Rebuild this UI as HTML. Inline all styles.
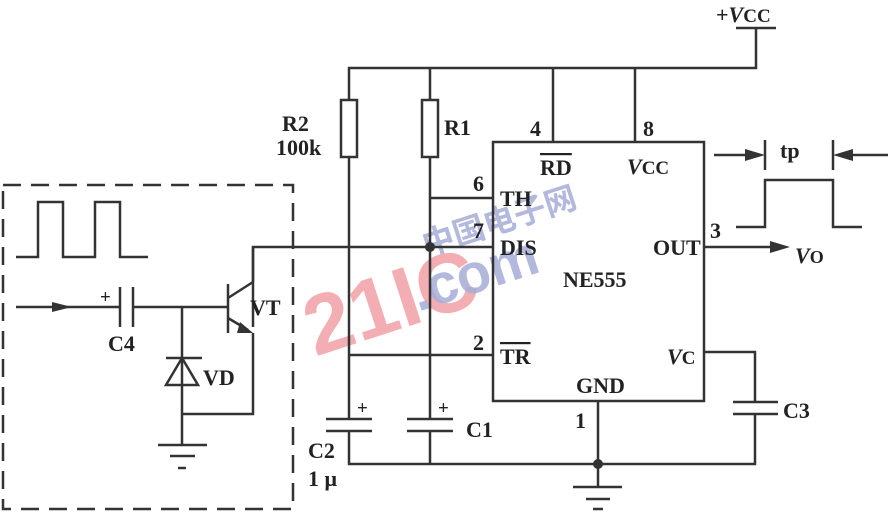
<!DOCTYPE html>
<html><head><style>html,body{margin:0;padding:0;background:#fff}svg{display:block}</style></head><body>
<svg width="892" height="514" viewBox="0 0 892 514" xmlns="http://www.w3.org/2000/svg" font-family="Liberation Serif, serif" font-weight="bold" fill="#222">
<!-- watermark -->
<text x="300" y="340" font-family="Liberation Sans, sans-serif" font-size="84" font-weight="bold" fill="#f2a0a8" transform="rotate(-18 360 300)" opacity="0.85">21IC</text>
<text x="405" y="290" font-family="Liberation Sans, sans-serif" font-size="56" font-weight="bold" fill="#a6acd8" transform="rotate(-18 480 260)" opacity="0.85">.com</text>
<text x="418" y="238" font-family="Noto Sans CJK SC, sans-serif" font-size="32" fill="#a6acd8" transform="rotate(-18 480 220)" opacity="0.85">中国电子网</text>
<g stroke="#333" stroke-width="2.5" fill="none">
<polyline points="349,100 349,68 756,68 756,28"/>
<line x1="736" y1="28" x2="776" y2="28"/>
<line x1="430" y1="68" x2="430" y2="100"/>
<line x1="553" y1="68" x2="553" y2="142"/>
<line x1="635" y1="68" x2="635" y2="142"/>
<rect x="341" y="100" width="16" height="57"/>
<rect x="422" y="100" width="16" height="57"/>
<line x1="349" y1="157" x2="349" y2="419"/>
<line x1="430" y1="157" x2="430" y2="419"/>
<rect x="493" y="142" width="211" height="259"/>
<line x1="430" y1="198" x2="493" y2="198"/>
<polyline points="253,327 253,247 493,247"/>
<line x1="349" y1="355" x2="493" y2="355"/>
<line x1="326" y1="419" x2="372" y2="419"/><line x1="326" y1="431" x2="372" y2="431"/>
<line x1="407" y1="419" x2="453" y2="419"/><line x1="407" y1="431" x2="453" y2="431"/>
<polyline points="349,431 349,464 755,464 755,414"/>
<line x1="430" y1="431" x2="430" y2="464"/>
<polyline points="704,352 755,352 755,402"/>
<line x1="733" y1="402" x2="778" y2="402"/><line x1="733" y1="414" x2="778" y2="414"/>
<line x1="598" y1="401" x2="598" y2="487"/>
<line x1="573" y1="487" x2="622" y2="487"/>
<line x1="586" y1="499" x2="610" y2="499"/>
<line x1="593" y1="509" x2="603" y2="509"/>
<line x1="704" y1="247" x2="770" y2="247"/>
<polyline points="736,227 765,227 765,180 833,180 833,227 862,227"/>
<line x1="714" y1="155" x2="750" y2="155"/>
<line x1="765" y1="140" x2="765" y2="170"/>
<line x1="833" y1="140" x2="833" y2="170"/>
<line x1="848" y1="155" x2="888" y2="155"/>
<rect x="3" y="185" width="290" height="324" stroke-dasharray="18,10"/>
<polyline points="16,257 38,257 38,202 63,202 63,257 95,257 95,202 120,202 120,257 148,257"/>
<line x1="16" y1="307" x2="120" y2="307"/>
<line x1="120" y1="287" x2="120" y2="327"/><line x1="133" y1="287" x2="133" y2="327"/>
<line x1="133" y1="307" x2="228" y2="307"/>
<line x1="182" y1="307" x2="182" y2="445"/>
<line x1="166" y1="358" x2="202" y2="358"/>
<polygon points="182,358 166,385 198,385"/>
<polyline points="182,414 253,414 253,333"/>
<line x1="158" y1="445" x2="207" y2="445"/>
<line x1="170" y1="456" x2="195" y2="456"/>
<line x1="178" y1="468" x2="186" y2="468"/>
<line x1="228" y1="284" x2="228" y2="333"/>
<line x1="228" y1="298" x2="253" y2="282"/>
<line x1="253" y1="282" x2="253" y2="247"/>
<line x1="228" y1="318" x2="248" y2="330"/>
</g>
<g fill="#333">
<polygon points="52,302 72,307 52,312"/>
<polygon points="240,322 253,333 237,333"/>
<circle cx="430" cy="247" r="5"/>
<circle cx="598" cy="464" r="5"/>
<polygon points="770,241 790,247 770,253"/>
<polygon points="745,149 765,155 745,161"/>
<polygon points="853,149 833,155 853,161"/>
</g>
<g font-size="22">
<text x="716" y="22">+<tspan font-style="italic">V</tspan><tspan font-size="19">CC</tspan></text>
<text x="282" y="131">R2</text>
<text x="276" y="155">100k</text>
<text x="444" y="135">R1</text>
<text x="530" y="136">4</text>
<text x="643" y="136">8</text>
<text x="540" y="175" text-decoration="overline">RD</text>
<text x="627" y="174"><tspan font-style="italic">V</tspan><tspan font-size="19">CC</tspan></text>
<text x="473" y="191">6</text>
<text x="500" y="206">TH</text>
<text x="473" y="238">7</text>
<text x="500" y="255">DIS</text>
<text x="563" y="287">NE555</text>
<text x="653" y="255">OUT</text>
<text x="710" y="238">3</text>
<text x="795" y="263" font-style="italic">V<tspan font-style="normal" font-size="18">O</tspan></text>
<text x="780" y="158">tp</text>
<text x="473" y="350">2</text>
<text x="500" y="364" text-decoration="overline">TR</text>
<text x="667" y="364"><tspan font-style="italic">V</tspan><tspan font-size="19">C</tspan></text>
<text x="576" y="393">GND</text>
<text x="575" y="428">1</text>
<text x="783" y="418">C3</text>
<text x="466" y="437">C1</text>
<text x="308" y="458">C2</text>
<text x="308" y="486">1 μ</text>
<text x="357" y="414" font-size="19">+</text>
<text x="438" y="414" font-size="19">+</text>
<text x="100" y="303" font-size="19">+</text>
<text x="108" y="351">C4</text>
<text x="203" y="385">VD</text>
<text x="250" y="315">VT</text>
</g>
</svg>
</body></html>
